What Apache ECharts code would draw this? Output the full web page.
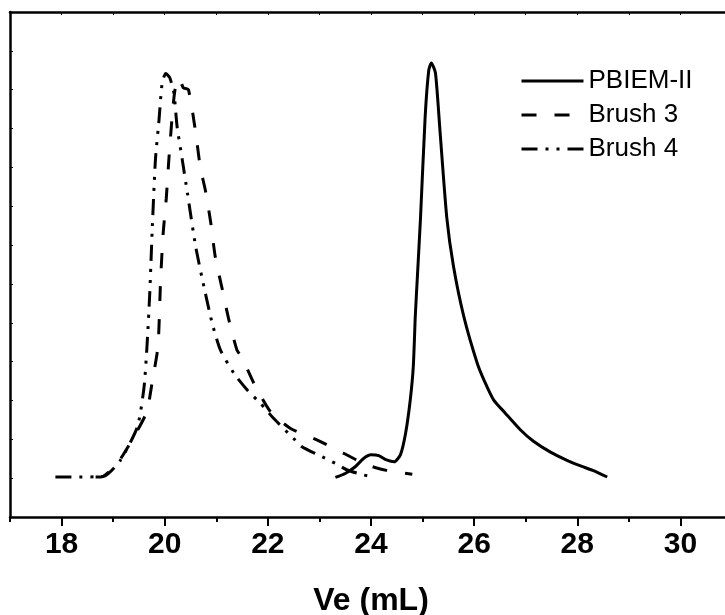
<!DOCTYPE html>
<html lang="en">
<head>
    <meta charset="UTF-8">
    <title>GPC traces</title>
    <style>
    html, body { margin: 0; padding: 0; background: #fff; }
    #chart { width: 725px; height: 615px; }
    </style>
</head>
<body>
    <div id="chart"></div>
    <script src="https://cdn.jsdelivr.net/npm/echarts@6/dist/echarts.min.js"></script>
    <script>
        // elution volume (mL) vs detector response
        var seriesNames = ['PBIEM-II', 'Brush 3', 'Brush 4'];
        var majorTicks = [18, 20, 22, 24, 26, 28, 30];
        var minorTicks = [17, 19, 21, 23, 25, 27, 29, 31];

        var pbiem = [
            [23.31,0.02],[23.5,0.12],[23.7,0.3],[23.85,0.5],[24.0,0.6],[24.15,0.58],[24.3,0.47],
            [24.45,0.42],[24.57,0.6],[24.67,1.15],[24.76,2.0],[24.82,2.87],[24.86,4.2],[24.9,5.2],
            [24.96,6.7],[25.05,9.3],[25.12,10.5],[25.17,10.69],[25.25,10.43],[25.34,8.9],[25.47,6.7],
            [25.6,5.45],[25.8,4.16],[26.06,2.96],[26.2,2.5],[26.38,2.01],[26.6,1.68],[26.9,1.24],
            [27.15,0.95],[27.48,0.67],[27.8,0.46],[28.05,0.32],[28.3,0.2],[28.58,0.03]
        ];
        var brush3 = [
            [18.66,0.03],[18.76,0.03],[19.08,0.38],[19.4,1.06],[19.65,1.7],[19.76,2.5],[19.87,3.4],
            [19.92,5.1],[19.97,6.3],[20.03,7.2],[20.08,8.2],[20.15,9.4],[20.2,10.0],[20.28,10.3],
            [20.36,10.05],[20.46,10.0],[20.6,8.9],[20.69,8.0],[20.79,7.4],[20.89,6.6],[20.98,5.7],
            [21.11,4.9],[21.24,4.1],[21.4,3.3],[21.5,3.1],[21.73,2.44],[22.05,1.71],[22.44,1.28],
            [22.96,0.98],[23.47,0.64],[23.92,0.34],[24.3,0.2],[24.8,0.1]
        ];
        var brush4 = [
            [17.88,0.03],[18.3,0.03],[18.82,0.05],[19.14,0.46],[19.47,1.32],[19.6,2.35],[19.66,3.48],
            [19.71,4.76],[19.76,6.48],[19.82,8.2],[19.89,9.23],[19.95,10.17],[20.02,10.42],[20.1,10.3],
            [20.18,9.9],[20.24,9.05],[20.34,8.2],[20.44,7.34],[20.6,5.96],[20.76,4.93],[20.92,3.99],
            [21.08,3.3],[21.34,2.7],[21.6,2.27],[21.86,1.92],[22.11,1.54],[22.5,1.02],[22.66,0.81],
            [22.99,0.59],[23.31,0.38],[23.54,0.21],[23.86,0.08],[24.05,0.04]
        ];

        var xMin = 17, xMax = 31;
        var yMin = -1, yMax = 12;

        var myChart = echarts.init(document.getElementById('chart'), null, { renderer: 'canvas' });
        var font = 'Liberation Sans, Arial, sans-serif';

        function lineSeries(name, data, type) {
            return {
                name: name,
                type: 'line',
                data: data,
                symbol: 'none',
                smooth: 0.2,
                lineStyle: { color: '#000', width: 3, type: type }
            };
        }

        var option = {
            animation: false,
            backgroundColor: '#fff',
            grid: { left: 10, top: 12, right: -7, bottom: 98, containLabel: false, outerBoundsMode: 'none' },
            legend: {
                orient: 'vertical',
                left: 515,
                top: 63,
                itemWidth: 62,
                itemHeight: 26,
                itemGap: 8,
                data: seriesNames,
                itemStyle: { color: 'transparent', borderWidth: 0 },
                lineStyle: { width: 3 },
                textStyle: { fontFamily: font, fontSize: 26, color: '#000' }
            },
            xAxis: [{
                type: 'value',
                min: xMin, max: xMax, interval: 1,
                position: 'bottom',
                name: 'Ve (mL)',
                nameLocation: 'middle',
                nameGap: 68,
                nameTextStyle: { fontFamily: font, fontSize: 32, fontWeight: 'bold', color: '#000' },
                axisLine: { onZero: false, lineStyle: { color: '#000', width: 2.5 } },
                axisTick: { inside: false, length: 9, customValues: majorTicks, lineStyle: { color: '#000', width: 2 } },
                axisLabel: {
                    margin: 13, fontFamily: font, fontSize: 30, fontWeight: 'bold', color: '#000',
                    customValues: majorTicks
                },
                splitLine: { show: false }
            }, {
                type: 'value',
                min: xMin, max: xMax, interval: 1,
                position: 'bottom',
                axisLine: { show: false, onZero: false },
                axisTick: { inside: false, length: 5, customValues: minorTicks, lineStyle: { color: '#000', width: 2 } },
                axisLabel: { show: false },
                splitLine: { show: false }
            }, {
                type: 'value',
                min: xMin, max: xMax, interval: 1,
                position: 'top',
                axisLine: { onZero: false, lineStyle: { color: '#000', width: 2.5 } },
                axisTick: { inside: true, length: 3, lineStyle: { color: '#000', width: 1 } },
                axisLabel: { show: false },
                splitLine: { show: false }
            }],
            yAxis: {
                type: 'value',
                min: yMin, max: yMax, interval: 1,
                axisLine: { show: true, onZero: false, lineStyle: { color: '#000', width: 2.5 } },
                axisTick: { show: true, inside: true, length: 3, lineStyle: { color: '#000', width: 1 } },
                axisLabel: { show: false },
                splitLine: { show: false }
            },
            series: [
                lineSeries(seriesNames[0], pbiem, 'solid'),
                lineSeries(seriesNames[1], brush3, [15, 18]),
                lineSeries(seriesNames[2], brush4, [16, 8, 3, 8, 3, 8])
            ]
        };
        myChart.setOption(option);
    </script>
</body>
</html>
